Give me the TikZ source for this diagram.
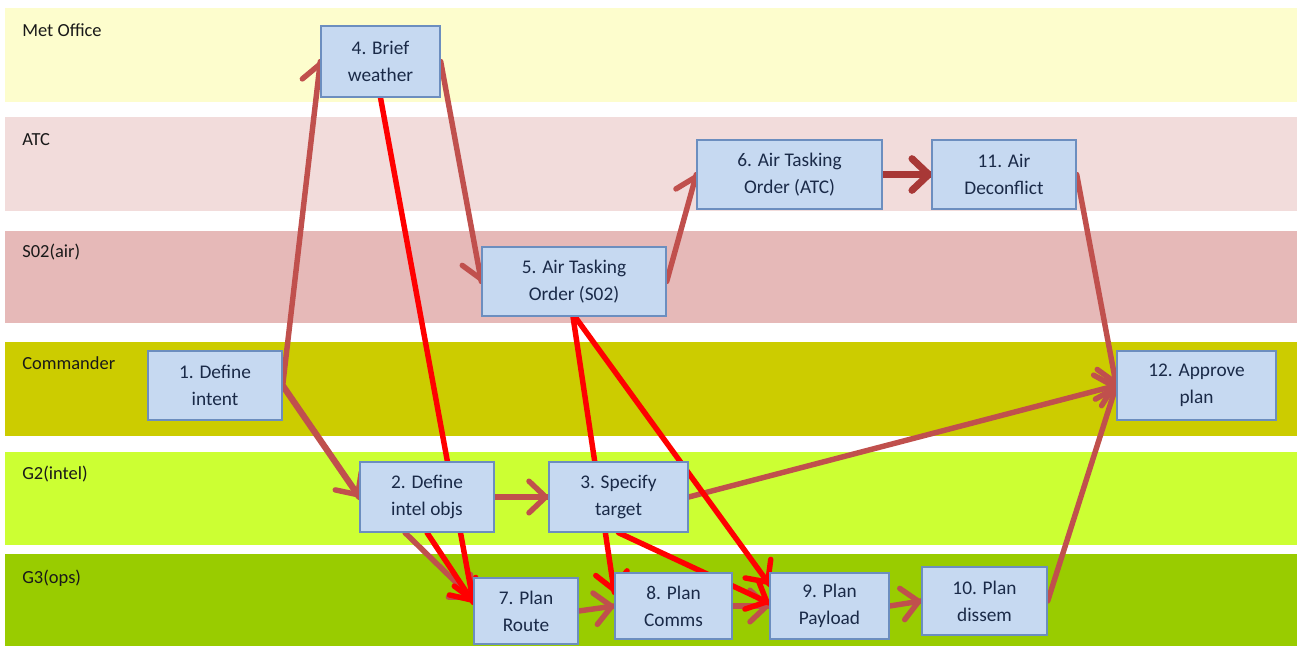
\documentclass[tikz,border=0pt]{standalone}
\usepackage{fontspec}
\setmainfont{Carlito}
\usetikzlibrary{calc,decorations.markings}

\definecolor{laneMet}{HTML}{FDFDCD}
\definecolor{laneATC}{HTML}{F2DCDB}
\definecolor{laneSO}{HTML}{E6B9B8}
\definecolor{laneCmd}{HTML}{CCCC00}
\definecolor{laneGtwo}{HTML}{CCFF33}
\definecolor{laneGthree}{HTML}{99CC00}
\definecolor{boxfill}{HTML}{C6D9F1}
\definecolor{boxline}{HTML}{6C8EBF}
\definecolor{boxtext}{HTML}{1A2A48}
\definecolor{dusky}{HTML}{C0504D}
\definecolor{duskydark}{HTML}{A83836}
\definecolor{brightred}{HTML}{FF0000}

\pgfdeclarelayer{lanes}
\pgfdeclarelayer{edges}
\pgfsetlayers{lanes,edges,main}

\begin{document}
\begin{tikzpicture}[x=0.02cm,y=-0.02cm,
  stepbox/.style 2 args={draw=boxline, line width=0.8pt, fill=boxfill,
    text=boxtext, align=center, inner sep=0pt,
    minimum width=#1*0.2mm, minimum height=#2*0.2mm,
    font=\fontsize{11}{15.5}\selectfont},
  lanelabel/.style={anchor=west, inner sep=0pt, text=black!90,
    font=\fontsize{10.5}{12}\selectfont},
  % open chevron head drawn at the end of a connector
  chevron/.style 2 args={postaction={decorate, decoration={markings,
    mark=at position 1 with {\draw[draw=#1, line width=#2, line cap=round,
      line join=round] (-11pt,9pt) -- (-1.5pt,0pt) -- (-11pt,-9pt);}}}},
  flow/.style={draw=dusky, line width=3.1pt, line cap=round,
    chevron={dusky}{3.1pt}},
  strong/.style={draw=duskydark, line width=4.2pt, line cap=round,
    chevron={duskydark}{4pt}},
  hot/.style={draw=brightred, line width=3.1pt, line cap=round,
    chevron={brightred}{3.1pt}}]

\useasboundingbox (0,0) rectangle (1297,646);

% swimlanes
\begin{pgfonlayer}{lanes}
  \fill[laneMet]    (5,8)   rectangle (1297,102);
  \fill[laneATC]    (5,117) rectangle (1297,211);
  \fill[laneSO]     (5,231) rectangle (1297,323);
  \fill[laneCmd]    (5,342) rectangle (1297,436);
  \fill[laneGtwo]   (5,452) rectangle (1297,545);
  \fill[laneGthree] (5,554) rectangle (1297,646);
\end{pgfonlayer}

\node[lanelabel] (lMet) at (22,30)  {Met Office};
\node[lanelabel] (lATC) at (22,140) {ATC};
\node[lanelabel] (lSO)  at (22,252) {S02(air)};
\node[lanelabel] (lCmd) at (22,363) {Commander};
\node[lanelabel] (lGtwo) at (22,474) {G2(intel)};
\node[lanelabel] (lGthree) at (22,578) {G3(ops)};

% process steps
\node[stepbox={119}{71}] (n4)  at (380.5,61.5)  {4. Brief\\weather};
\node[stepbox={185}{69}] (n6)  at (789.5,174.5) {6. Air Tasking\\Order (ATC)};
\node[stepbox={144}{69}] (n11) at (1004,174.5)  {11. Air\\Deconflict};
\node[stepbox={184}{69}] (n5)  at (574,281.5)   {5. Air Tasking\\Order (S02)};
\node[stepbox={134}{69}] (n1)  at (215,385.5)   {1. Define\\intent};
\node[stepbox={159}{69}] (n12) at (1196.5,385.5) {12. Approve\\plan};
\node[stepbox={134}{70}] (n2)  at (427,497)     {2. Define\\intel objs};
\node[stepbox={139}{70}] (n3)  at (618.5,497)   {3. Specify\\target};
\node[stepbox={104}{66}] (n7)  at (526,611)     {7. Plan\\Route};
\node[stepbox={117}{66}] (n8)  at (673.5,606)   {8. Plan\\Comms};
\node[stepbox={119}{66}] (n9)  at (829.5,606)   {9. Plan\\Payload};
\node[stepbox={125}{68}] (n10) at (984.5,601)   {10. Plan\\dissem};

% connectors
\begin{pgfonlayer}{edges}
  \draw[flow] (n1.east) -- (n4.west);
  \draw[flow, line width=3.6pt] (n1.east) -- (n2.west);
  \draw[flow] (n4.east) -- (n5.west);
  \draw[flow] (n5.east) -- (n6.west);
  \draw[strong] (n6.east) -- (n11.west);
  \draw[flow] (n11.east) -- (n12.west);
  \draw[flow] (n3.east) -- (n12.west);
  \draw[flow] (n10.east) -- (n12.west);
  \draw[flow] (n2.east) -- (n3.west);
  \draw[flow] (n7.east) -- (n8.west);
  \draw[flow] (n8.east) -- (n9.west);
  \draw[flow] (n9.east) -- (n10.west);
  \draw[flow] ($(n2.south)+(-22,0)$) -- ($(n7.north west)+(0,22)$);

  \draw[hot] (n4.south) -- ($(n7.north west)+(0,25)$);
  \draw[hot] (n2.south) -- ($(n7.north west)+(0,25)$);
  \draw[hot] ($(n5.south)+(-1,0)$) -- ($(n8.north west)+(0,20)$);
  \draw[hot] ($(n5.south)+(1,0)$) -- ($(n9.north west)+(0,12)$);
  \draw[hot] (n3.south) -- ($(n9.west)+(0,-3)$);
\end{pgfonlayer}
\end{tikzpicture}
\end{document}
